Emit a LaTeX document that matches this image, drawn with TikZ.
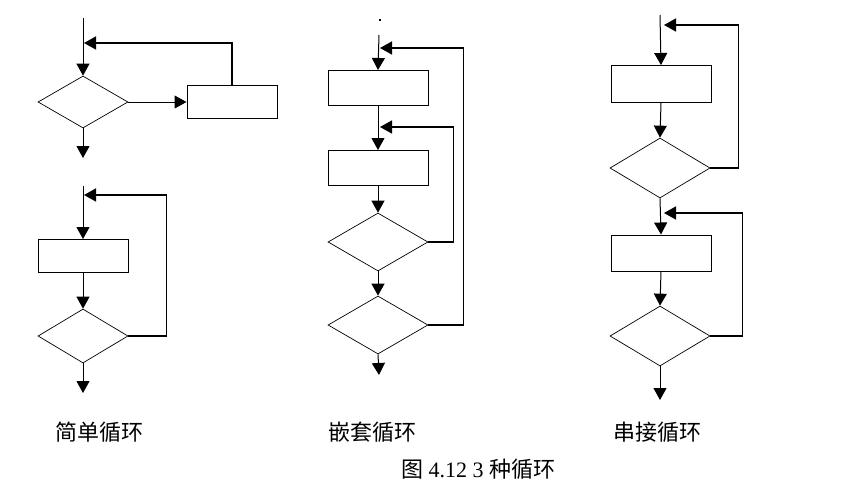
\documentclass[tikz,border=0pt]{standalone}
\usepackage{fontspec}
\setmainfont{Liberation Serif}
\newfontfamily\cjk{Noto Sans CJK SC}
\usetikzlibrary{shapes.geometric,arrows.meta,positioning}
\tikzset{
  procbox/.style={rectangle,draw=black,line width=1pt,inner sep=0pt,
                  minimum width=100pt,minimum height=35pt},
  decnode/.style={diamond,draw=black,line width=0.7pt,inner sep=0pt,
                  aspect=1.7,minimum width=100pt,minimum height=58pt},
  arr/.style={-{Triangle[width=13pt,length=12pt]},line width=1pt,color=black},
  fbarr/.style={-{Triangle[width=13pt,length=12pt]},line width=1.6pt,color=black},
  caplabel/.style={font=\cjk\fontsize{22}{26}\selectfont,inner sep=0pt}
}
\begin{document}
\begin{tikzpicture}[x=1pt,y=-1pt]
  \useasboundingbox (0,0) rectangle (855,490);

  % Simple loop, top
  \coordinate (s1) at (83,18);
  \node[decnode,minimum width=90pt,minimum height=52pt] (d1) at (83,102) {};
  \node[procbox,minimum width=90pt,minimum height=33pt] (b1) at (232,102) {};
  \coordinate (j1) at (84,43);
  \coordinate (e1) at (83,158);
  \draw[arr] (s1) -- (d1.north);
  \draw[arr] (d1.east) -- (b1.west);
  \draw[fbarr] (b1.north) |- (j1);
  \draw[arr] (d1.south) -- (e1);

  % Simple loop, bottom
  \coordinate (s2) at (83,186);
  \node[procbox,minimum width=90pt,minimum height=33pt] (b2) at (83,256) {};
  \node[decnode,minimum width=90pt,minimum height=54pt] (d2) at (83,336) {};
  \coordinate (j2) at (84,195);
  \coordinate (e2) at (83,393);
  \draw[arr] (s2) -- (b2.north);
  \draw[arr] (b2.south) -- (d2.north);
  \draw[fbarr] (d2.east) -- ++(38,0) |- (j2);
  \draw[arr] (d2.south) -- (e2);

  % Nested loop
  \fill (379,19) rectangle (380.5,20.5);
  \coordinate (s3) at (379,35);
  \node[procbox] (b3a) at (378,88) {};
  \node[procbox] (b3b) at (378,168) {};
  \node[decnode] (d3a) at (378,242) {};
  \node[decnode] (d3b) at (378,325) {};
  \coordinate (j3a) at (380,48);
  \coordinate (j3b) at (380,127);
  \coordinate (e3) at (379,375);
  \draw[arr] (s3) -- (b3a.north);
  \draw[arr] (b3a.south) -- (b3b.north);
  \draw[arr] (b3b.south) -- (d3a.north);
  \draw[arr] (d3a.south) -- (d3b.north);
  \draw[arr] (d3b.south) -- (e3);
  \draw[fbarr] (d3a.east) -- ++(25,0) |- (j3b);
  \draw[fbarr] (d3b.east) -- ++(35,0) |- (j3a);

  % Serial loop
  \coordinate (s4) at (660,15);
  \node[procbox,minimum height=37pt] (b4a) at (661,84) {};
  \node[decnode,minimum height=60pt] (d4a) at (660,168) {};
  \node[procbox,minimum height=36pt] (b4b) at (661,253) {};
  \node[decnode,minimum height=60pt] (d4b) at (660,336) {};
  \coordinate (j4a) at (664,25);
  \coordinate (j4b) at (664,213);
  \coordinate (e4) at (660,400);
  \draw[arr] (s4) -- (b4a.north);
  \draw[arr] (b4a.south) -- (d4a.north);
  \draw[arr] (d4a.south) -- (b4b.north);
  \draw[arr] (b4b.south) -- (d4b.north);
  \draw[arr] (d4b.south) -- (e4);
  \draw[fbarr] (d4a.east) -- ++(28,0) |- (j4a);
  \draw[fbarr] (d4b.east) -- ++(32,0) |- (j4b);

  % Labels
  \node[caplabel] (l1) at (100,432) {简单循环};
  \node[caplabel] (l2) at (372,432) {嵌套循环};
  \node[caplabel] (l3) at (657,432) {串接循环};
  \node[font=\fontsize{22}{26}\selectfont,inner sep=0pt] (cap) at (478,469)
    {{\cjk 图} 4.12 3 {\cjk 种循环}};
\end{tikzpicture}
\end{document}
